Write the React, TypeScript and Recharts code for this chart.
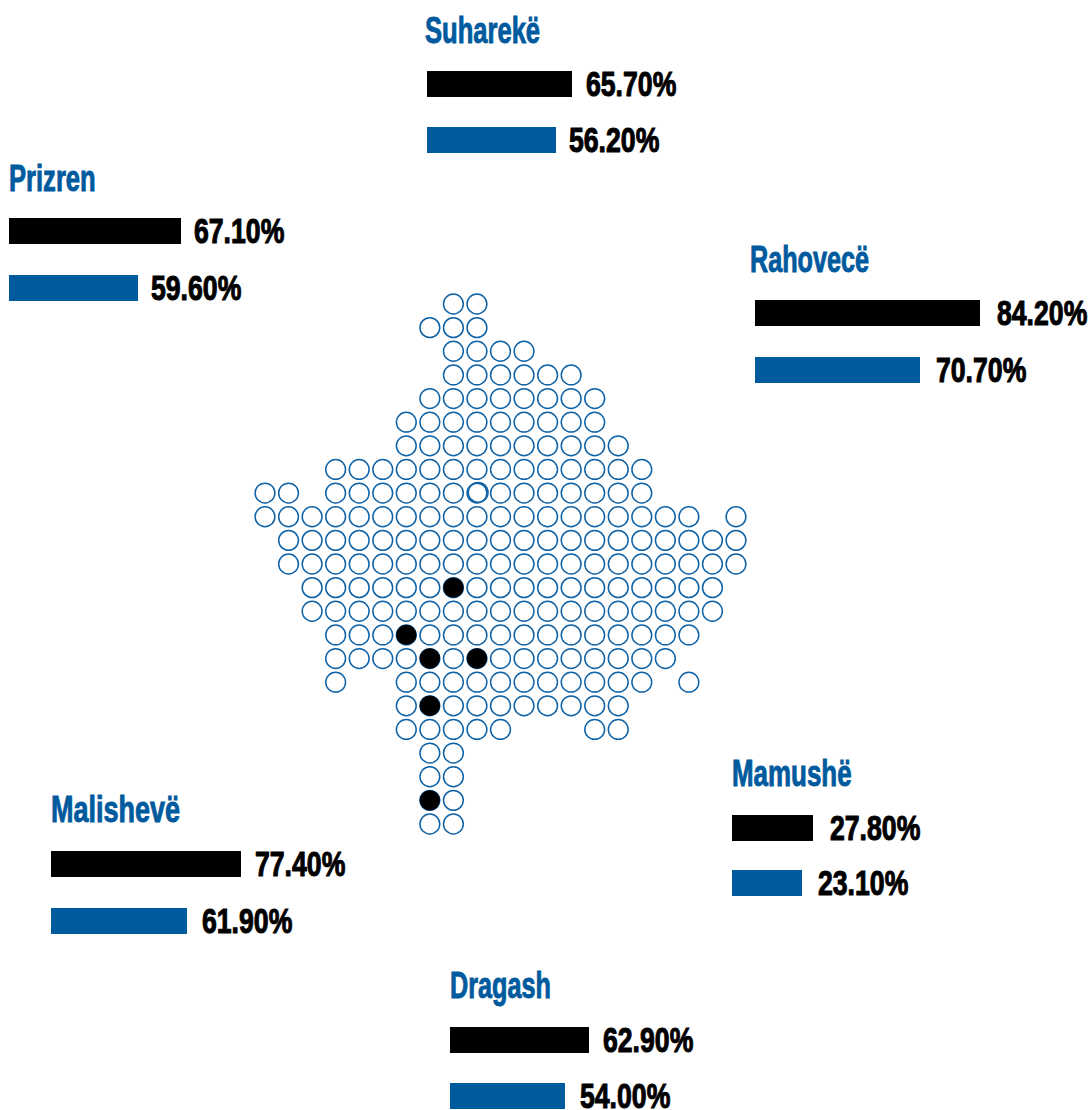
import React from "react";
import { BarChart, Bar, XAxis, YAxis, Cell, LabelList, ScatterChart, Scatter } from "recharts";

// ---------- Data ----------
const municipalities = ["Suharekë", "Prizren", "Rahovecë", "Malishevë", "Mamushë", "Dragash"];
const blackLabels = ["65.70%", "67.10%", "84.20%", "77.40%", "27.80%", "62.90%"];
const blueLabels = ["56.20%", "59.60%", "70.70%", "61.90%", "23.10%", "54.00%"];
// Bar lengths as drawn in the picture (they do not share one scale with the printed labels).
const blackDrawn = [145, 172, 225, 190, 81, 139];
const blueDrawn = [129, 129, 165, 136, 70, 115];

// Columns of every row in the dot grid, row 0 at the top.
const span = (a: number, b: number) => Array.from({ length: b - a + 1 }, (_, i) => a + i);
const gridRows: number[][] = [
  span(8, 9),
  span(7, 9),
  span(8, 11),
  span(8, 13),
  span(7, 14),
  span(6, 14),
  span(6, 15),
  span(3, 16),
  [0, 1, ...span(3, 16)],
  [...span(0, 18), 20],
  span(1, 20),
  span(1, 20),
  span(2, 19),
  span(2, 19),
  span(3, 18),
  span(3, 17),
  [3, ...span(6, 16), 18],
  span(6, 15),
  [...span(6, 10), 14, 15],
  span(7, 8),
  span(7, 8),
  span(7, 8),
  span(7, 8),
];
const filledCells = [
  { col: 8, row: 12 },
  { col: 6, row: 14 },
  { col: 7, row: 15 },
  { col: 9, row: 15 },
  { col: 7, row: 17 },
  { col: 7, row: 21 },
];
const strayCell = [{ col: 9.05, row: 7.97 }];

// ---------- Style and layout ----------
const BLUE = "#005a9e";
const RING = "#0f62a5";
const FONT = "'Liberation Sans', sans-serif";
const PANEL_W = 340;
const AXIS_MAX = 340;
const panels = [
  { x: 427, top: 56, pitch: 56, titleX: 425, titleY: 46, titleScale: 0.71, gaps: [14, 13] },
  { x: 9, top: 202, pitch: 57, titleX: 9, titleY: 194, titleScale: 0.71, gaps: [13, 13] },
  { x: 755, top: 284, pitch: 57, titleX: 750, titleY: 275, titleScale: 0.7, gaps: [17, 16] },
  { x: 51, top: 835, pitch: 57, titleX: 51, titleY: 825, titleScale: 0.75, gaps: [14, 15] },
  { x: 732, top: 800, pitch: 55, titleX: 732, titleY: 789, titleScale: 0.72, gaps: [17, 16] },
  { x: 450, top: 1012, pitch: 56, titleX: 450, titleY: 1001, titleScale: 0.7, gaps: [14, 15] },
];

const cellPoints = gridRows.flatMap((cols, row) => cols.map((col) => ({ col, row })));

const Ring = (p: any) => <circle cx={p.cx} cy={p.cy} r={9.9} fill="#fff" stroke={RING} strokeWidth={1.5} />;
const StrayRing = (p: any) => <circle cx={p.cx} cy={p.cy} r={9.9} fill="none" stroke={RING} strokeWidth={1.5} />;
const Solid = (p: any) => <circle cx={p.cx} cy={p.cy} r={10.2} fill="#000" />;

function Panel({ index }: { index: number }) {
  const p = panels[index];
  const rows = [
    { name: "black", drawn: blackDrawn[index], label: blackLabels[index] },
    { name: "blue", drawn: blueDrawn[index], label: blueLabels[index] },
  ];
  const renderLabel = (l: any) => {
    const i = l.index as number;
    const tx = l.x + l.width + p.gaps[i];
    const ty = l.y + l.height / 2 - 1;
    return (
      <text
        transform={`translate(${tx} ${ty}) scale(0.74 1)`}
        dy="0.36em"
        fontFamily={FONT}
        fontWeight={700}
        fontSize={36}
        fill="#000"
        stroke="#000"
        strokeWidth={1.1}
      >
        {rows[i].label}
      </text>
    );
  };
  return (
    <>
      <div
        style={{
          position: "absolute",
          left: p.titleX,
          top: p.titleY - 40,
          height: 50,
          lineHeight: "50px",
          fontFamily: FONT,
          fontWeight: 700,
          fontSize: 36,
          color: BLUE,
          whiteSpace: "nowrap",
          transform: `scaleX(${p.titleScale})`,
          transformOrigin: "left center",
          WebkitTextStroke: `0.9px ${BLUE}`,
        }}
      >
        {municipalities[index]}
      </div>
      <div style={{ position: "absolute", left: p.x, top: p.top }}>
        <BarChart
          width={PANEL_W}
          height={p.pitch * 2}
          data={rows}
          layout="vertical"
          margin={{ top: 0, right: 0, bottom: 0, left: 0 }}
          barCategoryGap={0}
          style={{ overflow: "visible" }}
        >
          <XAxis type="number" hide domain={[0, AXIS_MAX]} />
          <YAxis type="category" dataKey="name" hide />
          <Bar dataKey="drawn" barSize={26} isAnimationActive={false}>
            {rows.map((r) => (
              <Cell key={r.name} fill={r.name === "black" ? "#000" : BLUE} />
            ))}
            <LabelList dataKey="label" content={renderLabel} />
          </Bar>
        </BarChart>
      </div>
    </>
  );
}

export default function App() {
  return (
    <div style={{ position: "absolute", left: 0, top: 0, width: 1091, height: 1110, overflow: "hidden", background: "#fff" }}>
      <div style={{ position: "absolute", left: 251, top: 290 }}>
        <ScatterChart width={499} height={548} margin={{ top: 14, right: 14, bottom: 14, left: 14 }}>
          <XAxis type="number" dataKey="col" domain={[0, 20]} hide />
          <YAxis type="number" dataKey="row" domain={[0, 22]} reversed hide />
          <Scatter data={cellPoints} shape={Ring} isAnimationActive={false} />
          <Scatter data={strayCell} shape={StrayRing} isAnimationActive={false} />
          <Scatter data={filledCells} shape={Solid} isAnimationActive={false} />
        </ScatterChart>
      </div>
      {municipalities.map((m, i) => (
        <Panel key={m} index={i} />
      ))}
    </div>
  );
}
